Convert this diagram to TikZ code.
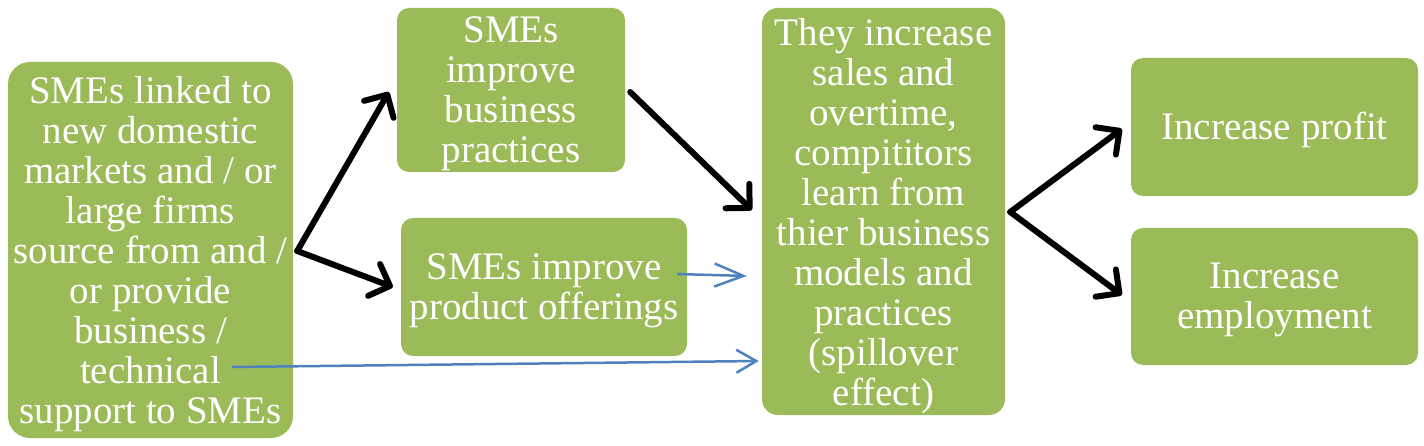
\documentclass[tikz,border=0pt]{standalone}
\usepackage{fontspec}
\setmainfont{Liberation Serif}
\usetikzlibrary{arrows.meta}
\definecolor{boxgreen}{HTML}{9BBB59}
\definecolor{arrowblue}{HTML}{4F81BD}
\tikzset{
  box/.style={fill=boxgreen, draw=none, rounded corners=12pt, inner sep=0pt},
  boxtext/.style={inner sep=0pt, align=center, text=white, font=\fontsize{39}{40}\selectfont},
  blackarrow/.style={draw=black, line width=6pt, line cap=round,
    -{Straight Barb[round,length=17pt,width=34pt]}},
  bluearrow/.style={draw=arrowblue, line width=2.5pt},
}
\begin{document}
\begin{tikzpicture}[x=1pt,y=-1pt]
\useasboundingbox (0,0) rectangle (1424,446);
\node[box, rounded corners=22pt, minimum width=285pt, minimum height=376pt] (A) at (150.5,250) {};
\node[box, minimum width=228pt, minimum height=164pt] (B) at (511,90) {};
\node[box, minimum width=286pt, minimum height=138pt] (C) at (544,287) {};
\node[box, rounded corners=16pt, minimum width=243pt, minimum height=407pt] (D) at (883.5,211.5) {};
\node[box, minimum width=287pt, minimum height=138pt] (E) at (1274.5,127) {};
\node[box, minimum width=287pt, minimum height=137pt] (F) at (1274.5,296.5) {};

\node[boxtext] (At) at ([shift={(0,4.5)}]A.center)
  {SMEs linked to\\new domestic\\markets and / or\\large firms\\source from and /\\or provide\\business /\\technical\\support to SMEs};
\node[boxtext] (Bt) at ([shift={(0,3.5)}]B.center)
  {SMEs\\improve\\business\\practices};
\node[boxtext] (Ct) at ([shift={(0,4)}]C.center)
  {SMEs improve\\product offerings};
\node[boxtext] (Dt) at ([shift={(0,4.5)}]D.center)
  {They increase\\sales and\\overtime,\\compititors\\learn from\\thier business\\models and\\practices\\(spillover\\effect)};
\node[boxtext] (Et) at ([shift={(0,3)}]E.center)
  {Increase profit};
\node[boxtext] (Ft) at ([shift={(0,3.5)}]F.center)
  {Increase\\employment};

\coordinate (asplit) at ([shift={(4,1)}]A.east);
\coordinate (dsplit) at ([shift={(5,0.5)}]D.east);

\draw[blackarrow] (asplit) -- ([shift={(-8,2)}]B.west);
\draw[blackarrow] (asplit) -- ([shift={(-8,0)}]C.west);
\draw[blackarrow] ([shift={(5,2)}]B.east) -- ([shift={(-10,-1.5)}]D.west);
\draw[blackarrow] (dsplit) -- ([shift={(-9,2)}]E.west);
\draw[blackarrow] (dsplit) -- ([shift={(-9,-1.5)}]F.west);
\draw[bluearrow, -{Straight Barb[length=29pt,width=23pt]}] ([shift={(133,-13)}]C.center) -- ([shift={(-15,64.5)}]D.west);
\draw[bluearrow, -{Straight Barb[length=20pt,width=23pt]}] ([shift={(81.5,117)}]A.center) -- ([shift={(-3,149.5)}]D.west);
\end{tikzpicture}
\end{document}
